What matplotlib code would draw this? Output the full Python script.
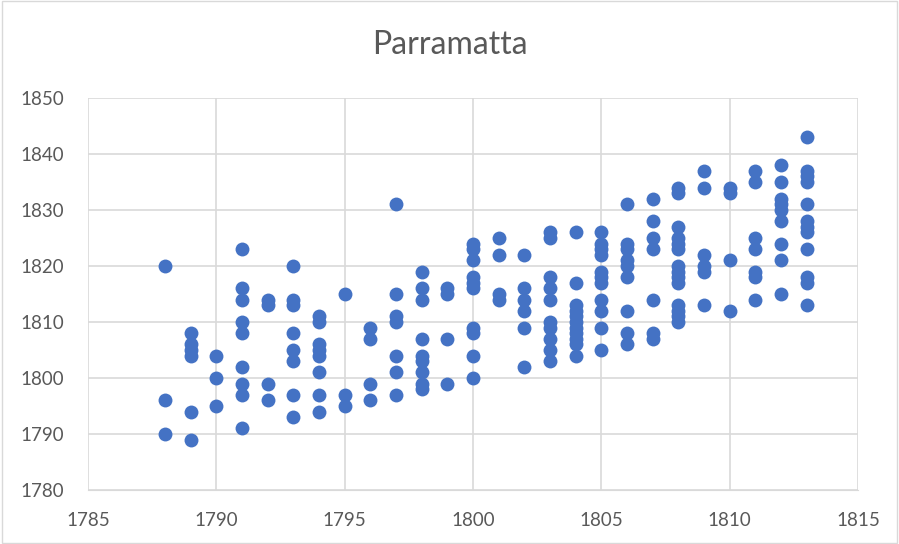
import matplotlib
matplotlib.use("Agg")
from matplotlib import pyplot as plt

# arrival year vs. year recorded, per column of x
cols = {
    1788: [1820, 1796, 1790],
    1789: [1808, 1806, 1805, 1804, 1794, 1789],
    1790: [1804, 1800, 1795],
    1791: [1823, 1816, 1814, 1810, 1808, 1802, 1799, 1797, 1791],
    1792: [1814, 1813, 1799, 1796],
    1793: [1820, 1814, 1813, 1808, 1805, 1803, 1797, 1793],
    1794: [1811, 1810, 1806, 1805, 1804, 1801, 1797, 1794],
    1795: [1815, 1797, 1795],
    1796: [1809, 1807, 1799, 1796],
    1797: [1831, 1815, 1811, 1810, 1804, 1801, 1797],
    1798: [1819, 1816, 1814, 1807, 1804, 1803, 1801, 1799, 1798],
    1799: [1816, 1815, 1807, 1799],
    1800: [1824, 1823, 1821, 1818, 1817, 1816, 1809, 1808, 1804, 1800],
    1801: [1825, 1822, 1815, 1814],
    1802: [1822, 1816, 1814, 1812, 1809, 1802],
    1803: [1826, 1825, 1818, 1816, 1814, 1810, 1809, 1807, 1805, 1803],
    1804: [1826, 1817, 1813, 1812, 1811, 1810, 1809, 1808, 1807, 1806, 1804],
    1805: [1826, 1824, 1823, 1822, 1819, 1818, 1817, 1814, 1812, 1809, 1805],
    1806: [1831, 1824, 1823, 1821, 1820, 1818, 1812, 1808, 1806],
    1807: [1832, 1828, 1825, 1823, 1814, 1808, 1807],
    1808: [1834, 1833, 1827, 1825, 1824, 1823, 1820, 1819, 1818, 1817,
           1813, 1812, 1811, 1810],
    1809: [1837, 1834, 1822, 1820, 1819, 1813],
    1810: [1834, 1833, 1821, 1812],
    1811: [1837, 1835, 1825, 1823, 1819, 1818, 1814],
    1812: [1838, 1835, 1832, 1831, 1830, 1828, 1824, 1821, 1815],
    1813: [1843, 1837, 1836, 1835, 1831, 1828, 1827, 1826, 1823, 1818,
           1817, 1813],
}

xs = []
ys = []
for k, v in cols.items():
    for y in v:
        xs.append(k)
        ys.append(y)

plt.rcParams['font.family'] = ['Lato', 'DejaVu Sans']
grey = '#595959'

fig = plt.figure(figsize=(8.99, 5.44), dpi=100)
ax = fig.add_axes([88 / 899, 1 - 490 / 544, 770 / 899, 392 / 544])

ax.scatter(xs, ys, s=100, color='#4472C4', zorder=3, linewidths=0)

ax.set_xlim(1785, 1815)
ax.set_ylim(1780, 1850)
ax.set_xticks(range(1785, 1816, 5))
ax.set_yticks(range(1780, 1851, 10))
ax.grid(True, color='#d9d9d9', linewidth=1.2)
ax.set_axisbelow(True)
for s in ax.spines.values():
    s.set_visible(False)
ax.spines['bottom'].set_visible(True)
ax.spines['bottom'].set_color('#d9d9d9')
ax.tick_params(length=0, labelsize=13.5, colors=grey)
ax.tick_params(axis='y', pad=17)
ax.tick_params(axis='x', pad=16)

fig.text(0.5, 1 - 45 / 544, 'Parramatta', ha='center', va='center',
         fontsize=23, color=grey)

# chart border
fig.patches.append(plt.Rectangle((0.002, 0.002), 0.996, 0.996, transform=fig.transFigure,
                                 fill=False, edgecolor='#d9d9d9', linewidth=1))

fig.savefig('out.png', dpi=100)
